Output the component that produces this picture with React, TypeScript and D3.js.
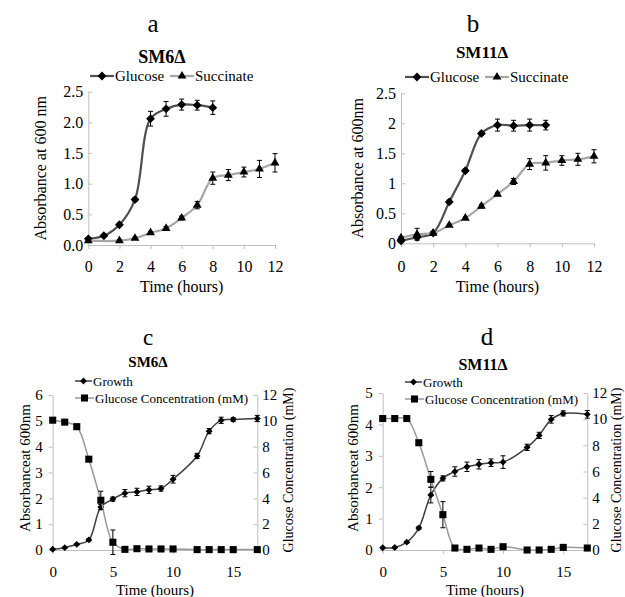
import React, { useRef, useEffect } from "react";
import * as d3 from "d3";

// a: SM6Δ, absorbance at 600 nm
const aGlucoseHours = [0, 1, 2, 3, 4, 5, 6, 7, 8];
const aGlucoseOD = [0.1, 0.15, 0.33, 0.74, 2.06, 2.22, 2.29, 2.28, 2.24];
const aGlucoseErr = [0.02, 0.02, 0.03, 0.03, 0.12, 0.12, 0.09, 0.08, 0.11];
const aSuccinateHours = [0, 2, 3, 4, 5, 6, 7, 8, 9, 10, 11, 12];
const aSuccinateOD = [0.07, 0.07, 0.11, 0.2, 0.27, 0.44, 0.65, 1.09, 1.14, 1.19, 1.24, 1.34];
const aSuccinateErr = [0.01, 0.01, 0.02, 0.02, 0.03, 0.03, 0.06, 0.1, 0.09, 0.08, 0.14, 0.15];

// b: SM11Δ
const bGlucoseHours = [0, 1, 2, 3, 4, 5, 6, 7, 8, 9];
const bGlucoseOD = [0.04, 0.1, 0.17, 0.69, 1.21, 1.83, 1.97, 1.96, 1.97, 1.97];
const bGlucoseErr = [0.02, 0.03, 0.02, 0.03, 0.03, 0.03, 0.1, 0.09, 0.1, 0.08];
const bSuccinateHours = [0, 1, 2, 3, 4, 5, 6, 7, 8, 9, 10, 11, 12];
const bSuccinateOD = [0.09, 0.15, 0.17, 0.3, 0.42, 0.62, 0.82, 1.03, 1.32, 1.34, 1.38, 1.4, 1.45];
const bSuccinateErr = [0.02, 0.1, 0.02, 0.02, 0.02, 0.03, 0.03, 0.05, 0.09, 0.12, 0.08, 0.1, 0.11];

// c, d: growth vs glucose concentration
const cdHours = [0, 1, 2, 3, 4, 5, 6, 7, 8, 9, 10, 12, 13, 14, 15, 17];
const cGrowth = [0.03, 0.09, 0.22, 0.39, 1.66, 1.97, 2.2, 2.25, 2.33, 2.38, 2.74, 3.64, 4.6, 5.02, 5.05, 5.09];
const cGrowthErr = [0.02, 0.02, 0.03, 0.04, 0.1, 0.08, 0.14, 0.14, 0.14, 0.1, 0.15, 0.1, 0.1, 0.12, 0.07, 0.12];
const cGlucose = [10.05, 9.9, 9.55, 7.03, 3.85, 0.6, 0.05, 0.1, 0.08, 0.08, 0.08, 0.03, 0.03, 0.03, 0.03, 0.03];
const cGlucoseErr = [0, 0, 0, 0, 0.7, 0.95, 0, 0, 0, 0, 0, 0, 0, 0, 0, 0];
const dGrowth = [0.07, 0.08, 0.25, 0.7, 1.75, 2.28, 2.5, 2.65, 2.73, 2.78, 2.8, 3.27, 3.65, 4.16, 4.35, 4.32];
const dGrowthErr = [0.02, 0.02, 0.03, 0.04, 0.25, 0.08, 0.15, 0.15, 0.15, 0.12, 0.2, 0.1, 0.1, 0.12, 0.08, 0.12];
const dGlucose = [10.05, 10.05, 10.05, 8.2, 5.4, 2.7, 0.15, 0.05, 0.15, 0.05, 0.25, 0, 0, 0.05, 0.2, 0.15];
const dGlucoseErr = [0, 0, 0, 0, 0.6, 1.0, 0, 0, 0, 0, 0, 0, 0, 0, 0, 0];

const abHourTicks = [0, 2, 4, 6, 8, 10, 12];
const abODTicks = [0, 0.5, 1, 1.5, 2, 2.5];
const cdHourTicks = [0, 5, 10, 15];
const cGrowthTicks = [0, 1, 2, 3, 4, 5, 6];
const dGrowthTicks = [0, 1, 2, 3, 4, 5];
const cdGlucoseTicks = [0, 2, 4, 6, 8, 10, 12];

const FONT = '"Liberation Serif", "Times New Roman", serif';
const AXIS = "#bfbfbf";
const DARK = "#505050";
const LIGHT = "#a6a6a6";
const diamond = (d3 as any).symbolDiamond2 || d3.symbolDiamond;

function drawSeries(g, x, y, hours, values, errors, s) {
	const line = d3
		.line()
		.x((d, i) => x(hours[i]))
		.y(d => y(d))
		.curve(d3.curveCatmullRom.alpha(0.5));

	g.append("path")
		.datum(values)
		.attr("d", line)
		.attr("fill", "none")
		.attr("stroke", s.color)
		.attr("stroke-width", s.width);

	const eb = g.append("g").attr("stroke", "#000").attr("stroke-width", 1);
	values.forEach((v, i) => {
		const e = errors[i];
		if (!e) return;
		const cx = x(hours[i]);
		const y0 = y(v - e), y1 = y(v + e);
		eb.append("line").attr("x1", cx).attr("x2", cx).attr("y1", y0).attr("y2", y1);
		eb.append("line").attr("x1", cx - 2.5).attr("x2", cx + 2.5).attr("y1", y0).attr("y2", y0);
		eb.append("line").attr("x1", cx - 2.5).attr("x2", cx + 2.5).attr("y1", y1).attr("y2", y1);
	});

	g.selectAll(null)
		.data(values)
		.enter()
		.append("path")
		.attr("transform", (d, i) => `translate(${x(hours[i])},${y(d)})`)
		.attr("d", d3.symbol(s.symbol, s.size)())
		.attr("fill", "#000");
}

function legendItem(g, x0, x1, y, s, label, fontSize) {
	g.append("line")
		.attr("x1", x0).attr("x2", x1).attr("y1", y).attr("y2", y)
		.attr("stroke", s.color).attr("stroke-width", s.width);
	g.append("path")
		.attr("transform", `translate(${(x0 + x1) / 2},${y})`)
		.attr("d", d3.symbol(s.symbol, s.size)())
		.attr("fill", "#000");
	g.append("text")
		.attr("x", x1 + 1)
		.attr("y", y)
		.attr("dy", "0.35em")
		.attr("font-size", fontSize)
		.text(label);
}

function styleAxis(sel, fontSize) {
	sel.attr("font-family", FONT).attr("font-size", fontSize);
	sel.select(".domain").attr("stroke", AXIS);
	sel.selectAll(".tick line").attr("stroke", AXIS);
	sel.selectAll("text").attr("fill", "#000");
}

function text(svg, x, y, str, size, opts = {}) {
	const t = svg.append("text")
		.attr("x", x)
		.attr("y", y)
		.attr("text-anchor", "middle")
		.attr("font-size", size)
		.text(str);
	if (opts.bold) t.attr("font-weight", "bold");
	return t;
}

function vtext(svg, cx, cy, str, size) {
	svg.append("text")
		.attr("transform", `translate(${cx},${cy}) rotate(-90)`)
		.attr("text-anchor", "middle")
		.attr("dy", "0.35em")
		.attr("font-size", size)
		.text(str);
}

function growthPanel(svg, p) {
	const x = d3.scaleLinear().domain([0, 12]).range([p.left, p.right]);
	const y = d3.scaleLinear().domain([0, 2.5]).range([p.bottom, p.top]);

	svg.append("g")
		.attr("transform", `translate(0,${p.bottom})`)
		.call(d3.axisBottom(x).tickValues(abHourTicks).tickSize(4).tickSizeOuter(0).tickPadding(p.bottomPad))
		.call(sel => styleAxis(sel, 16));

	svg.append("g")
		.attr("transform", `translate(${p.left},0)`)
		.call(d3.axisLeft(y).tickValues(abODTicks).tickSize(-4).tickSizeOuter(0).tickPadding(5).tickFormat(p.fmt))
		.call(sel => styleAxis(sel, 16));

	const glc = { color: DARK, width: 2.2, symbol: diamond, size: 50 };
	const suc = { color: LIGHT, width: 2.2, symbol: d3.symbolTriangle, size: 34 };
	drawSeries(svg, x, y, p.gh, p.gv, p.ge, glc);
	drawSeries(svg, x, y, p.sh, p.sv, p.se, suc);

	legendItem(svg, p.leg[0], p.leg[1], p.legY, glc, "Glucose", 15);
	legendItem(svg, p.leg[2], p.leg[3], p.legY, suc, "Succinate", 15);

	text(svg, (p.left + p.right) / 2, 292, "Time (hours)", 16);
	vtext(svg, p.ylabX, (p.top + p.bottom) / 2, p.ylab, 16);
}

function glucosePanel(svg, p) {
	const x = d3.scaleLinear().domain([0, 17]).range([p.left, p.right]);
	const yL = d3.scaleLinear().domain([0, p.gmax]).range([p.bottom, p.top]);
	const yR = d3.scaleLinear().domain([0, 12]).range([p.bottom, p.top]);

	svg.append("g")
		.attr("transform", `translate(0,${p.bottom})`)
		.call(d3.axisBottom(x).tickValues(cdHourTicks).tickSize(4).tickSizeOuter(0).tickPadding(12))
		.call(sel => styleAxis(sel, 15));

	svg.append("g")
		.attr("transform", `translate(${p.left},0)`)
		.call(d3.axisLeft(yL).tickValues(p.gticks).tickSize(4).tickSizeOuter(0).tickPadding(6).tickFormat(d3.format("d")))
		.call(sel => styleAxis(sel, 15));

	svg.append("g")
		.attr("transform", `translate(${p.right},0)`)
		.call(d3.axisRight(yR).tickValues(cdGlucoseTicks).tickSize(-4).tickSizeOuter(0).tickPadding(5).tickFormat(d3.format("d")))
		.call(sel => styleAxis(sel, 15));

	const gro = { color: "#404040", width: 1.5, symbol: diamond, size: 30 };
	const glc = { color: "#9a9a9a", width: 1.5, symbol: d3.symbolSquare, size: 50 };
	drawSeries(svg, x, yL, cdHours, p.growth, p.growthErr, gro);
	drawSeries(svg, x, yR, cdHours, p.glucose, p.glucoseErr, glc);

	legendItem(svg, p.legX, p.legX + 17, p.legY, gro, "Growth", 13);
	legendItem(svg, p.legX, p.legX + 19, p.legY + 17, glc, "Glucose Concentration (mM)", 13);

	text(svg, (p.left + p.right) / 2, 595, "Time (hours)", 15);
	vtext(svg, p.ylabX, 468, "Absorbanceat 600nm", 15);
	vtext(svg, p.y2labX, 470, "Glucose Concentration (mM)", 14);
}

const App = () => {
	const chartRef = useRef(null);

	useEffect(() => {
		const svg = d3.select(chartRef.current);
		svg.selectAll("*").remove();

		text(svg, 153, 32, "a", 25);
		text(svg, 473, 32, "b", 25);
		text(svg, 148, 345, "c", 23);
		text(svg, 487, 345, "d", 25);
		text(svg, 162, 63, "SM6Δ", 18, { bold: true });
		text(svg, 482, 58, "SM11Δ", 17, { bold: true });
		text(svg, 148, 367, "SM6Δ", 15, { bold: true });
		text(svg, 483, 370, "SM11Δ", 16, { bold: true });

		growthPanel(svg, {
			left: 88.3, right: 275, top: 91.7, bottom: 245, bottomPad: 11.6,
			fmt: d3.format(".1f"),
			gh: aGlucoseHours, gv: aGlucoseOD, ge: aGlucoseErr,
			sh: aSuccinateHours, sv: aSuccinateOD, se: aSuccinateErr,
			leg: [90, 114, 170, 194], legY: 76,
			ylab: "Absorbance at 600 nm", ylabX: 40,
		});

		growthPanel(svg, {
			left: 401, right: 594, top: 93.3, bottom: 243.3, bottomPad: 13.3,
			fmt: d3.format("~g"),
			gh: bGlucoseHours, gv: bGlucoseOD, ge: bGlucoseErr,
			sh: bSuccinateHours, sv: bSuccinateOD, se: bSuccinateErr,
			leg: [405, 429, 485, 509], legY: 77,
			ylab: "Absorbance at 600nm", ylabX: 357,
		});

		glucosePanel(svg, {
			left: 52.7, right: 257.3, top: 395, bottom: 550,
			gmax: 6, gticks: cGrowthTicks,
			growth: cGrowth, growthErr: cGrowthErr, glucose: cGlucose, glucoseErr: cGlucoseErr,
			legX: 75, legY: 381, ylabX: 25, y2labX: 288,
		});

		glucosePanel(svg, {
			left: 382.7, right: 587.3, top: 393, bottom: 550,
			gmax: 5, gticks: dGrowthTicks,
			growth: dGrowth, growthErr: dGrowthErr, glucose: dGlucose, glucoseErr: dGlucoseErr,
			legX: 405, legY: 382, ylabX: 353, y2labX: 616,
		});
	}, []);

	return (
		<svg
			ref={chartRef}
			width={625}
			height={597}
			style={{ position: "absolute", left: 0, top: 0, background: "#fff", fontFamily: FONT }}
		/>
	);
};

export default App;
